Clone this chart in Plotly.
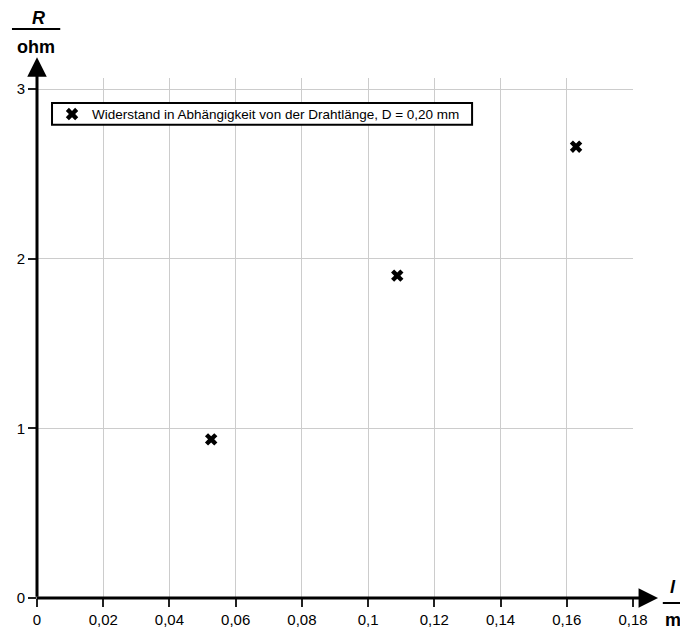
import plotly.graph_objects as go

# Data
lengths_m = [0.0526, 0.1088, 0.1628]
resistance_ohm = [0.935, 1.90, 2.66]
series_name = "Widerstand in Abhängigkeit von der Drahtlänge, D = 0,20 mm"

x_tickvals = [0, 0.02, 0.04, 0.06, 0.08, 0.1, 0.12, 0.14, 0.16, 0.18]
x_ticktext = ["0", "0,02", "0,04", "0,06", "0,08", "0,1", "0,12", "0,14", "0,16", "0,18"]
y_tickvals = [0, 1, 2, 3]
y_ticktext = ["0", "1", "2", "3"]

FONT = "Liberation Sans, Arial, sans-serif"

fig = go.Figure()
fig.add_trace(go.Scatter(
    x=lengths_m, y=resistance_ohm, mode="markers", name=series_name,
    marker=dict(symbol="x", size=11, color="black", line=dict(width=0)),
    showlegend=True,
))

# page body has an 8px margin: figure is 680x622 so it sits at (8,8)-(688,630)
fig.update_layout(
    width=680, height=622,
    margin=dict(l=29, r=55, t=70, b=32),
    paper_bgcolor="white", plot_bgcolor="white",
    font=dict(family=FONT, size=15, color="black"),
    separators=",.",
    showlegend=True,
    legend=dict(
        x=0.0252, y=0.960, xanchor="left", yanchor="top",
        borderwidth=0, bgcolor="rgba(0,0,0,0)",
        font=dict(family=FONT, size=13.5, color="black"),
    ),
    xaxis=dict(
        range=[0, 0.18], tickvals=x_tickvals, ticktext=x_ticktext,
        showgrid=True, gridcolor="#cccccc", gridwidth=1,
        zeroline=False, showline=False, automargin=False,
        ticks="outside", ticklen=8, tickcolor="#222", tickwidth=1.5,
    ),
    yaxis=dict(
        range=[0, 3.065], tickvals=y_tickvals, ticktext=y_ticktext,
        showgrid=True, gridcolor="#cccccc", gridwidth=1,
        zeroline=False, showline=False, automargin=False,
        ticks="outside", ticklen=8, tickcolor="#222", tickwidth=1.5,
    ),
)

# legend frame
fig.add_shape(type="rect", xref="paper", yref="paper", x0=0.0252, x1=0.730,
              y0=0.910, y1=0.952, fillcolor="white",
              line=dict(color="black", width=2), layer="above")

# Axis arrows
fig.add_annotation(xref="paper", yref="paper", x=1.042, y=0, ax=-623, ay=0,
                   axref="pixel", ayref="pixel", text="", showarrow=True,
                   arrowhead=2, arrowsize=1.3, arrowwidth=3, arrowcolor="black")
fig.add_annotation(xref="paper", yref="paper", x=0, y=1.040, ax=0, ay=541,
                   axref="pixel", ayref="pixel", text="", showarrow=True,
                   arrowhead=2, arrowsize=1.3, arrowwidth=3, arrowcolor="black")

# Axis title fractions
fig.add_annotation(xref="paper", yref="paper", x=0.002, y=1.115, text="<i><b>R</b></i>",
                   xanchor="center", yanchor="middle",
                   showarrow=False, font=dict(family=FONT, size=18, color="black"))
fig.add_shape(type="line", xref="paper", yref="paper", x0=-0.042, x1=0.039,
              y0=1.094, y1=1.094, line=dict(color="black", width=2))
fig.add_annotation(xref="paper", yref="paper", x=-0.002, y=1.060, text="<b>ohm</b>",
                   xanchor="center", yanchor="middle",
                   showarrow=False, font=dict(family=FONT, size=18, color="black"))

fig.add_annotation(xref="paper", yref="paper", x=1.067, y=0.0212, text="<i><b>l</b></i>",
                   xanchor="center", yanchor="middle",
                   showarrow=False, font=dict(family=FONT, size=18, color="black"))
fig.add_shape(type="line", xref="paper", yref="paper", x0=1.050, x1=1.090,
              y0=-0.0096, y1=-0.0096, line=dict(color="black", width=2))
fig.add_annotation(xref="paper", yref="paper", x=1.067, y=-0.0423, text="<b>m</b>",
                   xanchor="center", yanchor="middle",
                   showarrow=False, font=dict(family=FONT, size=18, color="black"))

fig.write_html("out.html")
